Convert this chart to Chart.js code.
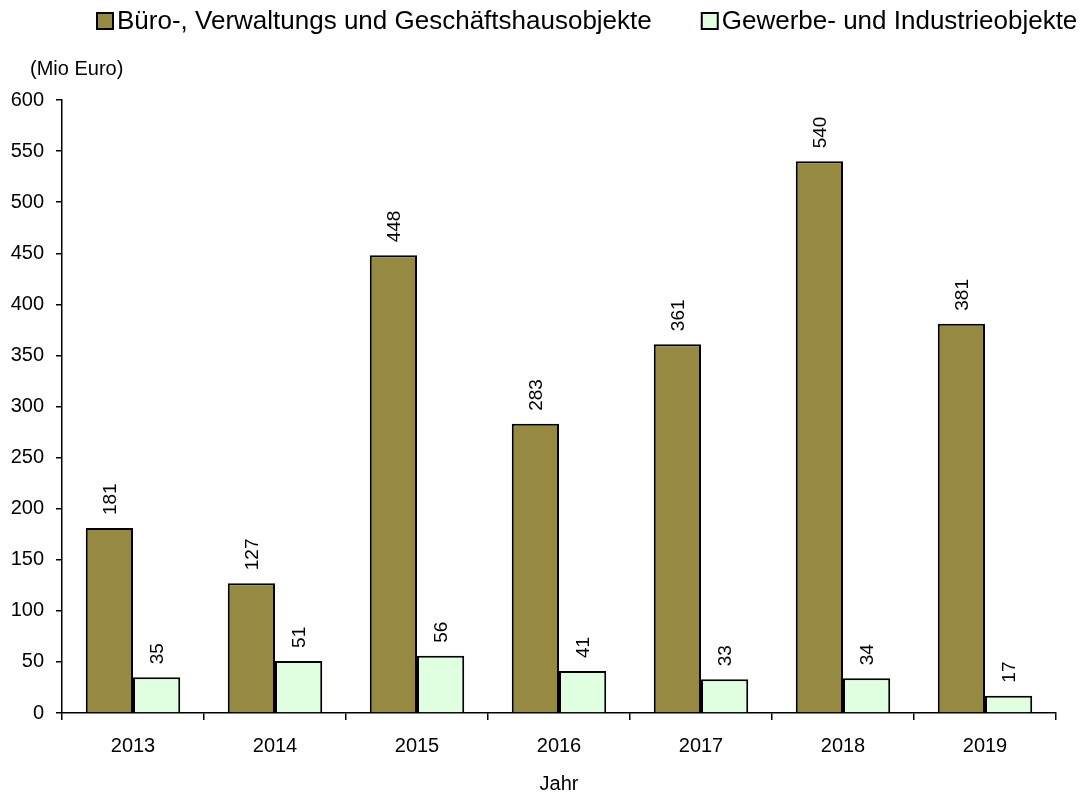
<!DOCTYPE html>
<html>
<head>
<meta charset="utf-8">
<script src="https://cdn.jsdelivr.net/npm/chart.js@4.4.0/dist/chart.umd.min.js"></script>
<style>
  body { margin: 0; background: #fff; }
  #wrap { width: 1080px; height: 796px; }
</style>
</head>
<body>
<div id="wrap"><canvas id="myChart"></canvas></div>
<script>
var years = ['2013', '2014', '2015', '2016', '2017', '2018', '2019']
var buero = [181, 127, 448, 283, 361, 540, 381]
var gewerbe = [35, 51, 56, 41, 33, 34, 17]
var yTicks = [0, 50, 100, 150, 200, 250, 300, 350, 400, 450, 500, 550, 600]

var FONT = '"Liberation Sans", Arial, sans-serif'
Chart.defaults.font.family = FONT
Chart.defaults.color = '#000'

// rotated value labels above each bar, unit text and legend
var labelPlugin = {
  id: 'labels',
  afterDatasetsDraw: function(chart) {
    var ctx = chart.ctx
    ctx.save()
    ctx.fillStyle = '#000'
    ctx.font = '19px ' + FONT
    chart.data.datasets.forEach(function(ds, i) {
      chart.getDatasetMeta(i).data.forEach(function(bar, j) {
        ctx.save()
        ctx.translate(bar.x, bar.y - 13)
        ctx.rotate(-Math.PI / 2)
        ctx.textAlign = 'left'
        ctx.textBaseline = 'middle'
        ctx.fillText(ds.data[j], 0, 1)
        ctx.restore()
      })
    })
    ctx.textAlign = 'left'
    ctx.textBaseline = 'middle'
    ctx.font = '20px ' + FONT
    ctx.fillText('(Mio Euro)', 30, 69)

    // legend
    ctx.font = '26px ' + FONT
    var x = 97
    chart.data.datasets.forEach(function(ds) {
      ctx.fillStyle = ds.backgroundColor
      ctx.fillRect(x, 13, 16, 16)
      ctx.strokeStyle = '#000'
      ctx.lineWidth = 2
      ctx.strokeRect(x, 13, 16, 16)
      ctx.fillStyle = '#000'
      ctx.fillText(ds.label, x + 20, 22)
      x += 20 + ctx.measureText(ds.label).width + 50
    })
    ctx.restore()
  }
}

var config = {
  type: 'bar',
  data: {
    labels: years,
    datasets: [{
      label: 'Büro-, Verwaltungs und Geschäftshausobjekte',
      data: buero,
      backgroundColor: '#968A42',
      borderColor: '#000',
      borderWidth: 2,
      barPercentage: 1,
      categoryPercentage: 0.665
    }, {
      label: 'Gewerbe- und Industrieobjekte',
      data: gewerbe,
      backgroundColor: '#E0FFE0',
      borderColor: '#000',
      borderWidth: 2,
      barPercentage: 1,
      categoryPercentage: 0.665
    }]
  },
  options: {
    responsive: true,
    maintainAspectRatio: false,
    animation: false,
    layout: { padding: { top: 100, right: 24, left: 0, bottom: 0 } },
    plugins: {
      tooltip: { enabled: false },
      legend: { display: false }
    },
    scales: {
      x: {
        grid: { display: true, drawOnChartArea: false, offset: true, color: '#000', tickLength: 7, lineWidth: 1.5 },
        border: { color: '#000', width: 1.5 },
        ticks: { font: { size: 20 }, padding: 14 },
        title: { display: true, text: 'Jahr', font: { size: 20 }, padding: { top: 0, bottom: 0 } }
      },
      y: {
        min: 0,
        max: 600,
        afterBuildTicks: function(scale) {
          scale.ticks = yTicks.map(function(v) { return { value: v } })
        },
        afterFit: function(scale) { scale.width = 62 },
        grid: { display: true, drawOnChartArea: false, color: '#000', tickLength: 6, lineWidth: 1.5 },
        border: { color: '#000', width: 1.5 },
        ticks: { font: { size: 20 }, padding: 12 }
      }
    }
  },
  plugins: [labelPlugin]
}

var mychart = new Chart(document.getElementById('myChart'), config)
</script>
</body>
</html>
